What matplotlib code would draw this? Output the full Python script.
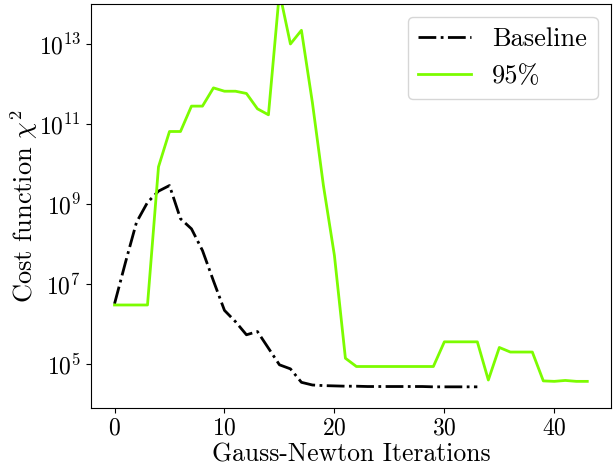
import numpy as np
import matplotlib
matplotlib.use("Agg")
import matplotlib.pyplot as plt
from matplotlib.ticker import NullLocator

plt.rcParams['font.family'] = 'serif'
plt.rcParams['font.serif'] = ['cmr10']
plt.rcParams['mathtext.fontset'] = 'cm'
plt.rcParams['axes.unicode_minus'] = False
plt.rcParams['axes.formatter.use_mathtext'] = True

# cost function per Gauss-Newton iteration
baseline = [3.2e6, 3.5e7, 3.5e8, 1.1e9, 2.1e9, 2.9e9, 4.3e8, 2.4e8, 6.9e7, 1.2e7,
            2.2e6, 1.15e6, 5.4e5, 6.5e5, 2.5e5, 9.6e4, 7.6e4, 3.5e4, 3.0e4, 2.9e4,
            2.85e4, 2.8e4, 2.8e4, 2.75e4, 2.75e4, 2.75e4, 2.75e4, 2.75e4, 2.75e4,
            2.7e4, 2.7e4, 2.7e4, 2.7e4, 2.7e4]
pct95 = [3.0e6, 3.0e6, 3.0e6, 3.0e6, 8.5e9, 6.5e10, 6.5e10, 2.8e11, 2.8e11, 8.0e11,
         6.6e11, 6.6e11, 5.8e11, 2.4e11, 1.7e11, 2.0e14, 1.0e13, 2.2e13, 3.4e11, 2.9e9,
         5.2e7, 1.4e5, 8.7e4, 8.7e4, 8.7e4, 8.7e4, 8.7e4, 8.7e4, 8.7e4, 8.7e4,
         3.6e5, 3.6e5, 3.6e5, 3.6e5, 4.0e4, 2.6e5, 2.0e5, 2.0e5, 2.0e5, 3.8e4,
         3.7e4, 3.9e4, 3.7e4, 3.7e4]

it_base = np.arange(len(baseline))
it_95 = np.arange(len(pct95))

fig, ax = plt.subplots(figsize=(6.14, 4.68), dpi=100)
fig.subplots_adjust(left=0.148, right=0.995, top=0.9915, bottom=0.128)

ax.plot(it_base, baseline, 'k-.', lw=2, label='Baseline')
ax.plot(it_95, pct95, color='lawngreen', lw=2, label='95%')

ax.set_yscale('log')
ax.set_ylim(10**3.9, 1e14)
ax.yaxis.set_minor_locator(NullLocator())
ax.set_yticks([1e5, 1e7, 1e9, 1e11, 1e13])
ax.tick_params(labelsize=17)

ax.set_xlabel('Gauss-Newton Iterations', fontsize=18.5, labelpad=2)
ax.set_ylabel(r'Cost function $\chi^2$', fontsize=19, labelpad=-1)
ax.legend(fontsize=19, loc='upper right')

fig.savefig('out.png')
